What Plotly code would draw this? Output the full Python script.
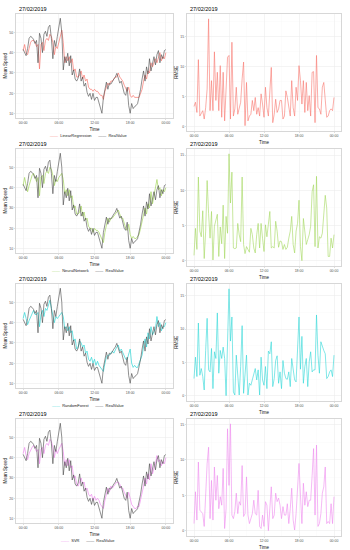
import pandas as pd
import plotly.graph_objects as go

# ---------------- data ----------------
times = pd.date_range("2019-02-27 00:00", periods=97, freq="15min")
date_label = "27/02/2019"
x_tick_labels = ["00:00", "06:00", "12:00", "18:00", "00:00"]
speed_ticks = [10, 20, 30, 40, 50]
rmse_ticks = [0, 5, 10, 15]

real_value = [41.6, 40, 38.5, 42, 47, 48, 47.5, 46.5, 44.5, 46,
              35, 49.5, 47, 40, 49, 50.5, 48, 52.5, 53.5, 47,
              37, 46, 43, 48, 53, 56.9, 50, 31.5, 38, 35,
              39.7, 33.5, 38.5, 29, 31.5, 27, 26, 27.5, 32, 26,
              28, 23.5, 25, 20.5, 18.5, 20, 17, 20, 16.5, 18,
              18, 15, 13, 10.2, 18, 22, 25.5, 22, 25, 24.5,
              26, 27, 28, 29.8, 27.5, 25, 26, 22, 20, 19,
              23, 14, 10.2, 15, 12.5, 13.5, 14, 15, 18, 22,
              27, 31, 26, 33, 29.5, 37, 31, 35.5, 38, 34,
              39, 41, 35, 39, 37, 41, 41.5]

lr_pred = [41, 44, 40, 39, 42, 45, 46, 46, 45, 43,
           44, 32, 44, 45, 41, 46, 47, 46, 49, 48,
           45, 39, 43, 42, 45, 48, 51, 45, 35, 38,
           36, 38, 35, 37, 31, 32, 28, 28, 29, 31,
           27, 29, 26, 27, 23, 22, 22, 21, 22, 21,
           21, 20, 19, 19, 17, 21, 23, 25, 24, 26,
           26, 27, 28, 28, 30, 28, 27, 26, 24, 22,
           21, 23, 19, 18, 19, 18, 18, 18, 18, 20,
           22, 26, 29, 27, 31, 30, 35, 33, 35, 37,
           35, 38, 40, 36, 38, 37, 40]

nn_pred = [41, 45, 41, 38, 41, 44, 46, 47, 45, 43,
           45, 36, 45, 46, 42, 47, 48, 47, 50, 49,
           46, 41, 44, 43, 45, 46, 47, 44, 37, 39,
           36, 39, 35, 36, 30, 31, 27, 27, 28, 31,
           26, 28, 24, 25, 21, 20, 20, 18, 20, 19,
           19, 18, 16, 15, 13, 18, 22, 25, 23, 25,
           25, 26, 27, 28, 29, 27, 25, 25, 22, 20,
           19, 22, 17, 15, 16, 15, 15, 16, 17, 20,
           23, 27, 30, 27, 32, 30, 38, 32, 36, 38,
           44, 39, 40, 36, 39, 38, 40]

rf_pred = [42, 45, 42, 39, 41, 43, 45, 46, 44, 44,
           45, 38, 44, 46, 43, 47, 46, 48, 51, 47,
           44, 40, 43, 42, 43, 44, 45, 43, 37, 38,
           36, 38, 35, 36, 31, 32, 27, 28, 31, 30,
           28, 29, 25, 26, 22, 21, 23, 20, 22, 19,
           21, 19, 18, 17, 16, 20, 23, 24, 24, 25,
           26, 25, 27, 28, 29, 26, 27, 25, 23, 22,
           22, 25, 27, 20, 18, 19, 18, 18, 20, 21,
           24, 28, 32, 28, 35, 32, 38, 34, 36, 37,
           43, 38, 40, 36, 38, 38, 40]

svr_pred = [42, 45, 41, 39, 42, 44, 45, 46, 44, 43,
            44, 37, 44, 45, 42, 46, 47, 46, 49, 48,
            45, 40, 44, 42, 44, 46, 47, 43, 36, 39,
            36, 39, 35, 36, 30, 31, 27, 26, 28, 30,
            27, 28, 24, 25, 22, 21, 22, 19, 21, 19,
            20, 19, 17, 16, 15, 19, 22, 25, 23, 26,
            25, 26, 27, 28, 28, 27, 25, 25, 23, 21,
            20, 23, 20, 17, 16, 15, 15, 16, 16, 19,
            22, 26, 30, 27, 32, 29, 37, 32, 35, 37,
            41, 38, 39, 36, 38, 37, 40]

lr_rmse = [3.4, 4.1, 2.4, 11.2, 1.8, 2.4, 2.7, 1.3, 3.2, 6.3,
           18.0, 2.7, 7.7, 2.7, 12.5, 4.4, 9.1, 2.7, 10.2, 1.6,
           9.1, 1.0, 7.2, 11.6, 11.9, 1.3, 14.1, 1.8, 3.0, 6.6,
           2.1, 3.2, 4.1, 8.0, 10.8, 0.2, 7.4, 1.0, 1.8, 2.1,
           4.4, 2.7, 4.9, 2.1, 3.2, 1.8, 5.5, 3.8, 1.6, 6.6,
           3.2, 1.8, 6.3, 9.9, 0.7, 2.1, 4.6, 2.4, 3.0, 4.4,
           4.4, 1.3, 1.8, 6.0, 4.9, 3.0, 1.8, 7.7, 3.2, 1.8,
           6.6, 4.4, 10.2, 7.7, 3.8, 7.7, 2.4, 7.4, 2.7, 5.2,
           1.8, 9.1, 9.2, 0.7, 11.9, 3.2, 3.0, 2.1, 6.6, 7.4,
           4.4, 1.6, 1.8, 2.7, 3.0, 2.7, 4.9]

nn_rmse = [0.75, 4.6, 1.6, 11.9, 4.2, 3.4, 7.1, 0.3, 4.2, 11.4,
           6.7, 3.2, 7.0, 0.1, 4.9, 6.0, 6.6, 0.6, 4.8, 2.4,
           7.9, 0.3, 6.3, 3.9, 15.2, 8.2, 12.6, 1.8, 1.7, 1.8,
           5.3, 3.7, 2.7, 11.9, 2.3, 1.0, 2.0, 1.6, 1.2, 4.6,
           3.7, 1.8, 1.1, 3.7, 5.3, 1.8, 5.3, 3.2, 1.3, 5.1,
           3.4, 5.2, 7.0, 1.8, 2.0, 1.8, 5.6, 4.2, 1.9, 2.8,
           2.7, 1.6, 2.3, 1.6, 1.9, 3.2, 4.2, 6.3, 2.3, 1.1,
           4.2, 5.3, 8.6, 2.0, 0.0, 6.0, 3.7, 2.3, 3.0, 3.7,
           4.9, 9.8, 10.8, 2.0, 12.0, 1.8, 3.4, 3.2, 3.9, 7.2,
           9.3, 7.5, 0.6, 0.6, 3.2, 1.8, 3.7]

rf_rmse = [2.6, 5.8, 2.9, 10.9, 3.1, 4.1, 2.9, 0.9, 6.8, 11.6,
           3.9, 3.6, 7.1, 1.1, 6.6, 5.6, 12.4, 3.4, 6.8, 5.6,
           7.3, 5.6, 0.05, 6.8, 16.0, 8.2, 11.8, 0.6, 0.15, 6.1,
           2.4, 0.15, 4.4, 10.5, 0.4, 2.9, 6.1, 0.15, 1.9, 1.6,
           2.4, 3.3, 4.1, 2.4, 3.9, 0.15, 5.8, 2.4, 1.6, 4.4,
           1.1, 6.7, 6.3, 8.1, 1.4, 2.6, 5.3, 6.0, 1.9, 3.6,
           1.1, 5.3, 3.4, 2.6, 2.5, 3.6, 1.4, 5.6, 3.9, 2.4,
           2.1, 6.1, 11.8, 4.0, 8.9, 1.9, 4.4, 5.6, 1.4, 5.1,
           6.6, 3.6, 3.9, 3.9, 12.1, 6.1, 3.4, 8.1, 7.3, 6.8,
           6.3, 2.6, 2.9, 3.6, 3.9, 2.9, 6.1]

svr_rmse = [1.0, 5.5, 1.5, 9.7, 2.9, 2.7, 2.4, 0.6, 5.7, 9.5,
            11.8, 1.7, 7.1, 1.5, 9.0, 4.3, 7.8, 3.1, 4.8, 3.6,
            8.8, 0.3, 3.1, 14.4, 6.4, 15.1, 2.2, 1.7, 2.7, 5.3,
            2.4, 4.1, 3.6, 9.2, 2.0, 2.4, 7.6, 2.2, 1.0, 1.7,
            2.4, 4.3, 2.4, 2.2, 5.7, 0.6, 0.3, 2.2, 0.6, 4.1,
            3.6, 0.0, 4.1, 6.2, 1.7, 2.2, 5.3, 4.1, 4.6, 3.6,
            1.7, 3.4, 2.2, 2.2, 3.8, 1.0, 3.1, 6.0, 1.5, 0.1,
            2.4, 5.3, 9.5, 5.0, 1.0, 6.7, 3.6, 5.5, 3.4, 4.3,
            4.3, 7.8, 11.6, 2.2, 12.1, 0.6, 1.0, 2.4, 5.3, 6.2,
            9.0, 1.0, 1.3, 1.0, 3.8, 1.0, 4.8]

model_names = ["LinearRegression", "NeuralNetwork", "RandomForest", "SVR"]
model_preds = [lr_pred, nn_pred, rf_pred, svr_pred]
model_rmse = [lr_rmse, nn_rmse, rf_rmse, svr_rmse]
model_colors = ["#F8766D", "#A3D65C", "#2ED6D6", "#EE8AEE"]
real_name = "RealValue"
real_color = "#444444"

# ---------------- layout helpers ----------------
W, H = 350, 550
ROW_STEP = 135
GRID = "#EBEBEB"
MINOR = "#F5F5F5"
BORDER = "#BDBDBD"
FONT = "Liberation Sans, Arial, sans-serif"
TICKFONT = dict(family=FONT, size=3.5, color="#555555")
TITLEFONT = dict(family=FONT, size=4.5, color="#111111")


def ypx(p):
    return 1 - p / H


def expand(vals, frac=0.05):
    lo, hi = min(vals), max(vals)
    span = hi - lo
    return [lo - frac * span, hi + frac * span]


t_span = times[-1] - times[0]
x_range = [times[0] - t_span * 0.05, times[-1] + t_span * 0.05]
tickvals = [times[i] for i in range(0, len(times), 24)]

fig = go.Figure()
annotations = []
layout = {}

for r, (name, pred, rmse, col) in enumerate(zip(model_names, model_preds, model_rmse, model_colors)):
    off = ROW_STEP * r
    li, ri = 2 * r + 1, 2 * r + 2
    lx = "x" if li == 1 else f"x{li}"
    ly = "y" if li == 1 else f"y{li}"
    rx, ry = f"x{ri}", f"y{ri}"

    fig.add_trace(go.Scatter(x=times, y=pred, mode="lines", name=name,
                             line=dict(color=col, width=0.7), xaxis=lx, yaxis=ly,
                             showlegend=False))
    fig.add_trace(go.Scatter(x=times, y=real_value, mode="lines", name=real_name,
                             line=dict(color=real_color, width=0.6), xaxis=lx, yaxis=ly,
                             showlegend=False))
    fig.add_trace(go.Scatter(x=times, y=rmse, mode="lines", name=name + " RMSE",
                             line=dict(color=col, width=0.8), opacity=0.75,
                             xaxis=rx, yaxis=ry, showlegend=False))

    common_x = dict(type="date", range=x_range, tickvals=tickvals, ticktext=x_tick_labels,
                    showgrid=True, gridcolor=GRID, gridwidth=0.5, automargin=False,
                    minor=dict(showgrid=True, gridcolor=MINOR, gridwidth=0.3,
                               dtick=3 * 3600 * 1000, ticks=""),
                    ticks="outside", ticklen=1.5, tickcolor=BORDER, tickwidth=0.5,
                    tickfont=TICKFONT, showline=True, linecolor=BORDER, linewidth=0.6,
                    mirror=True, zeroline=False,
                    title=dict(text="Time", font=TITLEFONT, standoff=2.5))
    common_y = dict(showgrid=True, gridcolor=GRID, gridwidth=0.5, automargin=False,
                    ticks="outside", ticklen=1.5, tickcolor=BORDER, tickwidth=0.5,
                    tickfont=TICKFONT, showline=True, linecolor=BORDER, linewidth=0.6,
                    mirror=True, zeroline=False)

    left_dom_x = [16 / W, 173 / W]
    right_dom_x = [187 / W, 341 / W]
    left_dom_y = [ypx(118 + off), ypx(13.5 + off)]
    right_dom_y = [ypx(131 + off), ypx(13.5 + off)]

    layout["xaxis" if li == 1 else f"xaxis{li}"] = dict(common_x, domain=left_dom_x, anchor=ly)
    layout["yaxis" if li == 1 else f"yaxis{li}"] = dict(
        common_y, domain=left_dom_y, anchor=lx,
        range=expand(real_value + pred), tickvals=speed_ticks,
        minor=dict(showgrid=True, gridcolor=MINOR, gridwidth=0.3, dtick=5, ticks=""),
        title=dict(text="Mean Speed", font=TITLEFONT, standoff=1.5))
    layout[f"xaxis{ri}"] = dict(common_x, domain=right_dom_x, anchor=ry)
    layout[f"yaxis{ri}"] = dict(
        common_y, domain=right_dom_y, anchor=rx,
        range=expand(rmse), tickvals=rmse_ticks,
        minor=dict(showgrid=True, gridcolor=MINOR, gridwidth=0.3, dtick=2.5, ticks=""),
        title=dict(text="RMSE", font=TITLEFONT, standoff=1.5))

    # compact legend under the left panel (text with coloured line keys)
    legend_text = (f"<span style='color:{col}'>——</span>  {name}"
                   f"      <span style='color:{real_color}'>——</span>  {real_name}")
    annotations.append(dict(text=legend_text, x=88 / W, y=ypx(135 + off),
                            xref="paper", yref="paper", xanchor="center", yanchor="middle",
                            showarrow=False, font=dict(family=FONT, size=4, color="#222222")))

    for xp in (17 / W, 188 / W):
        annotations.append(dict(text=date_label, x=xp, y=ypx(8.5 + off), xref="paper", yref="paper",
                                xanchor="left", yanchor="middle", showarrow=False,
                                font=dict(family=FONT, size=5.5, color="#000000")))

fig.update_layout(width=W, height=H, margin=dict(l=0, r=0, t=0, b=0),
                  paper_bgcolor="white", plot_bgcolor="white", hovermode=False,
                  annotations=annotations, **layout)

fig.write_html("out.html", config={"displayModeBar": False, "staticPlot": True},
               post_script="document.body.style.margin='0';document.body.style.overflow='hidden';")
